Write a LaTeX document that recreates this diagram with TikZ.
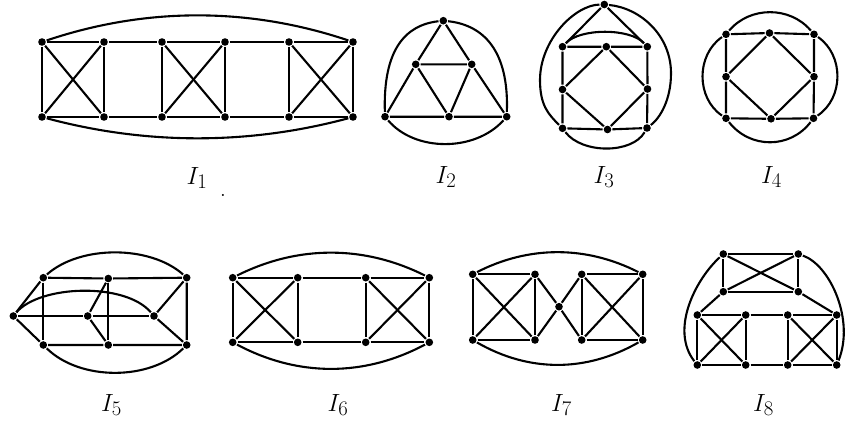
\documentclass[tikz,border=0pt]{standalone}
\begin{document}
\begin{tikzpicture}[x=1pt,y=-1pt,line width=2.1pt,line join=round,
  v/.style={circle,fill=black,inner sep=0pt,minimum size=7.6pt},
  lab/.style={anchor=base,inner sep=0pt,font=\fontsize{29}{34}\selectfont}]
\path[use as bounding box] (0,0) rectangle (845,423);

% ---------------- I1 ----------------
\foreach \n/\x in {1/42,2/104,3/162,4/225,5/289,6/353}{
  \node[v] (at\n) at (\x,42) {};
  \node[v] (ab\n) at (\x,117) {};
}
\draw (at1) -- (at2) -- (at3) -- (at4) -- (at5) -- (at6);
\draw (ab1) -- (ab2) -- (ab3) -- (ab4) -- (ab5) -- (ab6);
\foreach \n in {1,...,6}{\draw (at\n) -- (ab\n);}
\foreach \a/\b in {1/2,3/4,5/6}{
  \draw (at\a) -- (ab\b); \draw (ab\a) -- (at\b);
}
\draw (at1) .. controls (146,7) and (249,7) .. (at6);
\draw (ab1) .. controls (146,145) and (249,145) .. (ab6);
\node[lab] (l1) at (197,184) {$I_1$};
\node[anchor=base,inner sep=0pt,font=\fontsize{25}{30}\selectfont] (dot) at (223,196) {.};

% ---------------- I2 ----------------
\node[v] (bt) at (443.3,20.7) {};
\node[v] (bml) at (415.7,64.3) {};
\node[v] (bmr) at (471.7,64.3) {};
\node[v] (bbl) at (385,116.7) {};
\node[v] (bbm) at (449,116.7) {};
\node[v] (bbr) at (506.7,116.7) {};
\draw (bt) -- (bml) -- (bbl) -- (bbm) -- (bbr) -- (bmr) -- (bt);
\draw (bml) -- (bmr) -- (bbm) -- (bml);
\draw (bt) .. controls (405,25) and (383,50) .. (bbl);
\draw (bt) .. controls (483,25) and (509,50) .. (bbr);
\draw (bbl) .. controls (415,152) and (475,152) .. (bbr);
\node[lab] (l2) at (446,183) {$I_2$};

% ---------------- I3 ----------------
\node[v] (ct) at (604.3,4.5) {};
\node[v] (ctl) at (562.5,46.7) {};
\node[v] (ctr) at (647.3,46.7) {};
\node[v] (cbl) at (562.5,128.3) {};
\node[v] (cbr) at (647,128) {};
\node[v] (cmt) at (606.3,46.7) {};
\node[v] (cml) at (562.5,89.5) {};
\node[v] (cmr) at (647.5,89) {};
\node[v] (cmb) at (607.5,129.5) {};
\draw (ctl) -- (cmt) -- (ctr) -- (cmr) -- (cbr) -- (cmb) -- (cbl) -- (cml) -- (ctl);
\draw (cmt) -- (cml) -- (cmb) -- (cmr) -- (cmt);
\draw (ct) -- (ctl); \draw (ct) -- (ctr);
\draw (ctl) .. controls (580,28) and (630,28) .. (ctr);
\draw (ct) .. controls (575,5) and (540,40) .. (540,80) .. controls (540,105) and (548,114) .. (cbl);
\draw (ct) .. controls (640,8) and (671,35) .. (671,73.3) .. controls (671,100) and (660,118) .. (cbr);
\draw (cbl) .. controls (582,154) and (632,154) .. (cbr);
\node[lab] (l3) at (604,183) {$I_3$};

% ---------------- I4 ----------------
\node[v] (dtl) at (726,34.3) {};
\node[v] (dtr) at (814,34.3) {};
\node[v] (dbl) at (726,118.3) {};
\node[v] (dbr) at (813.5,118.3) {};
\node[v] (dmt) at (769.5,33) {};
\node[v] (dml) at (726,76.7) {};
\node[v] (dmr) at (814,76.7) {};
\node[v] (dmb) at (771,118.8) {};
\draw (dtl) -- (dmt) -- (dtr) -- (dmr) -- (dbr) -- (dmb) -- (dbl) -- (dml) -- (dtl);
\draw (dmt) -- (dml) -- (dmb) -- (dmr) -- (dmt);
\draw (dtl) .. controls (750,6) and (790,6) .. (dtr);
\draw (dbl) .. controls (750,149) and (790,149) .. (dbr);
\draw (dtl) .. controls (696,55) and (696,98) .. (dbl);
\draw (dtr) .. controls (844,55) and (844,98) .. (dbr);
\node[lab] (l4) at (771.5,183) {$I_4$};

% ---------------- I5 ----------------
\node[v] (el) at (13.3,316) {};
\node[v] (etl) at (43.3,277.7) {};
\node[v] (ebl) at (43.3,345) {};
\node[v] (etm) at (108.3,278.5) {};
\node[v] (ec) at (87.7,316) {};
\node[v] (ebm) at (108.3,345) {};
\node[v] (er) at (154,316) {};
\node[v] (etr) at (186.7,277.7) {};
\node[v] (ebr) at (186.7,345) {};
\draw (el) -- (etl) -- (etm) -- (etr) -- (ebr) -- (ebm) -- (ebl) -- (el);
\draw (etl) -- (ebl);
\draw (el) -- (ec) -- (er);
\draw (etm) -- (ebm);
\draw (etm) -- (ec) -- (ebm);
\draw (etr) -- (er) -- (ebr);
\draw (etl) .. controls (80,245) and (150,245) .. (etr);
\draw (ebl) .. controls (80,381) and (150,381) .. (ebr);
\draw (el) .. controls (40,285) and (125,282) .. (er);
\node[lab] (l5) at (111.5,411) {$I_5$};

% ---------------- I6 ----------------
\foreach \n/\x in {1/232.7,2/297.7,3/365.7,4/429.3}{
  \node[v] (ft\n) at (\x,277.7) {};
  \node[v] (fb\n) at (\x,342.3) {};
}
\draw (ft1) -- (ft2) -- (ft3) -- (ft4);
\draw (fb1) -- (fb2) -- (fb3) -- (fb4);
\foreach \n in {1,...,4}{\draw (ft\n) -- (fb\n);}
\foreach \a/\b in {1/2,3/4}{
  \draw (ft\a) -- (fb\b); \draw (fb\a) -- (ft\b);
}
\draw (ft1) .. controls (298,245) and (364,245) .. (ft4);
\draw (fb1) .. controls (298,377) and (364,377) .. (fb4);
\node[lab] (l6) at (338,411) {$I_6$};

% ---------------- I7 ----------------
\foreach \n/\x in {1/472.7,2/535,3/581.7,4/642.7}{
  \node[v] (gt\n) at (\x,274.3) {};
  \node[v] (gb\n) at (\x,340) {};
}
\node[v] (gm) at (559,306.7) {};
\draw (gt1) -- (gt2); \draw (gt3) -- (gt4);
\draw (gb1) -- (gb2); \draw (gb3) -- (gb4);
\foreach \n in {1,...,4}{\draw (gt\n) -- (gb\n);}
\foreach \a/\b in {1/2,3/4}{
  \draw (gt\a) -- (gb\b); \draw (gb\a) -- (gt\b);
}
\draw (gt2) -- (gm) -- (gb3);
\draw (gb2) -- (gm) -- (gt3);
\draw (gt1) .. controls (529,245.5) and (586,245.5) .. (gt4);
\draw (gb1) .. controls (529,372.4) and (586,372.4) .. (gb4);
\node[lab] (l7) at (561.5,411) {$I_7$};

% ---------------- I8 ----------------
\node[v] (htl) at (723.3,254) {};
\node[v] (htr) at (798.3,254) {};
\node[v] (hbl) at (723.3,291.7) {};
\node[v] (hbr) at (798.3,291.7) {};
\draw (htl) -- (htr) -- (hbr) -- (hbl) -- (htl);
\draw (htl) -- (hbr); \draw (htr) -- (hbl);
\foreach \n/\x in {1/697.3,2/745.7,3/787.7,4/836.7}{
  \node[v] (kt\n) at (\x,315) {};
  \node[v] (kb\n) at (\x,365) {};
}
\draw (kt1) -- (kt2) -- (kt3) -- (kt4);
\draw (kb1) -- (kb2) -- (kb3) -- (kb4);
\foreach \n in {1,...,4}{\draw (kt\n) -- (kb\n);}
\foreach \a/\b in {1/2,3/4}{
  \draw (kt\a) -- (kb\b); \draw (kb\a) -- (kt\b);
}
\draw (hbl) -- (kt1); \draw (hbr) -- (kt4);
\draw (htl) .. controls (695,280) and (670,330) .. (kb1);
\draw (htr) .. controls (830,265) and (855,320) .. (kb4);
\node[lab] (l8) at (763.5,411) {$I_8$};
\end{tikzpicture}
\end{document}
